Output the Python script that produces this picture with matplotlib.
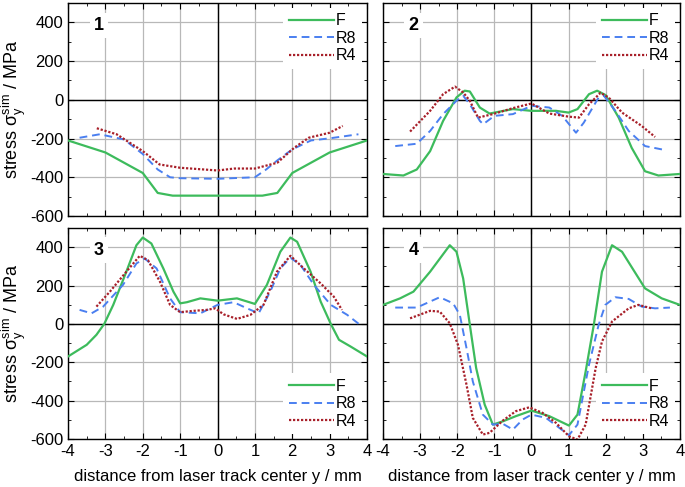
import matplotlib
matplotlib.use("Agg")
from matplotlib import pyplot as plt
from matplotlib.ticker import MultipleLocator

plt.rcParams['font.family'] = ['Liberation Sans', 'DejaVu Sans']
plt.rcParams['mathtext.fontset'] = 'custom'
plt.rcParams['mathtext.rm'] = 'Liberation Sans'
plt.rcParams['mathtext.it'] = 'Liberation Sans'
plt.rcParams['axes.unicode_minus'] = False

# panel 1
x1_f = [-4, -3, -2, -1.6, -1.2, 0, 1.2, 1.6, 2, 3, 4]
y1_f = [-210, -272, -378, -481, -495, -495, -495, -481, -378, -272, -210]
x1_r8 = [-3.69, -3.15, -2.5, -2.0, -1.6, -1.27, -1.0, 0, 1.0, 1.3, 1.6, 2.0, 2.5, 3.0, 3.77]
y1_r8 = [-196, -178, -205, -280, -360, -400, -405, -408, -400, -360, -313, -256, -210, -199, -178]
x1_r4 = [-3.23, -2.7, -2.0, -1.55, -1.0, 0, 0.45, 1.0, 1.6, 2.05, 2.44, 3.0, 3.35]
y1_r4 = [-147, -178, -265, -334, -351, -365, -355, -355, -325, -248, -196, -170, -135]

# panel 2
x2_f = [-4, -3.45, -3.09, -2.73, -2.38, -2.02, -1.8, -1.66, -1.39, -1.13, -0.5, 0,
        0.66, 1.0, 1.24, 1.55, 1.77, 2.0, 2.35, 2.7, 3.06, 3.42, 4]
y2_f = [-383, -391, -360, -265, -109, 12, 47, 43, -40, -71, -48, -57,
        -57, -66, -48, 29, 47, 24, -92, -248, -369, -391, -383]
x2_r8 = [-3.67, -3.09, -2.73, -2.38, -2.02, -1.84, -1.66, -1.39, -1.3, -1.0, -0.5, 0,
         0.48, 0.83, 1.2, 1.41, 1.81, 1.95, 2.26, 2.62, 3.06, 3.64]
y2_r8 = [-239, -227, -161, -74, -5, 21, -23, -109, -126, -83, -74, -31,
         -40, -83, -170, -118, 12, 21, -57, -161, -239, -261]
x2_r4 = [-3.27, -2.73, -2.38, -2.06, -1.84, -1.66, -1.44, -1.04, -0.5, 0,
         0.48, 1.0, 1.28, 1.55, 1.86, 2.08, 2.44, 2.97, 3.33]
y2_r4 = [-164, -57, 29, 68, 38, -5, -92, -74, -43, -19,
         -71, -87, -92, -23, 36, 12, -66, -135, -192]

# panel 3
x3_f = [-4, -3.5, -3.24, -3.03, -2.79, -2.44, -2.17, -2.0, -1.77, -1.45, -1.18, -1.0,
        -0.82, -0.46, 0, 0.52, 1.0, 1.32, 1.68, 1.95, 2.13, 2.49, 2.76, 3.03, 3.25, 3.56, 4]
y3_f = [-170, -109, -57, 0, 99, 272, 410, 450, 419, 289, 168, 107,
        113, 133, 121, 133, 104, 203, 376, 450, 428, 272, 116, 0, -83, -118, -170]
x3_r8 = [-3.69, -3.37, -3.06, -2.53, -2.17, -1.95, -1.63, -1.27, -1.0, -0.46, 0,
         0.43, 0.79, 1.1, 1.41, 1.68, 1.95, 2.22, 2.58, 3.03, 3.47, 3.78]
y3_r8 = [73, 55, 90, 203, 315, 341, 289, 133, 61, 55, 99,
         113, 81, 55, 168, 289, 345, 307, 203, 99, 47, 0]
x3_r4 = [-3.24, -2.88, -2.44, -2.08, -1.86, -1.54, -1.27, -1.0, -0.64, -0.29, -0.06,
         0.16, 0.52, 0.88, 1.23, 1.59, 1.95, 2.31, 2.76, 3.11, 3.33]
y3_r4 = [90, 168, 272, 355, 332, 220, 99, 61, 68, 73, 81,
         50, 26, 47, 99, 272, 355, 289, 211, 142, 73]

# panel 4
x4_f = [-4, -3.54, -3.18, -2.73, -2.2, -2.02, -1.84, -1.66, -1.49, -1.26, -1.04, -0.77,
        -0.42, 0, 0.48, 1.01, 1.24, 1.46, 1.68, 1.9, 2.17, 2.44, 3.06, 3.51, 4]
y4_f = [99, 133, 168, 272, 410, 376, 237, -5, -230, -421, -525, -508,
        -481, -452, -481, -530, -473, -248, -5, 272, 410, 376, 185, 133, 99]
x4_r8 = [-3.67, -3.09, -2.47, -2.11, -1.93, -1.75, -1.58, -1.31, -1.04, -0.77, -0.5,
         -0.24, 0, 0.39, 0.75, 1.01, 1.24, 1.55, 1.81, 1.99, 2.26, 2.62, 2.97, 3.33, 3.73]
y4_r8 = [85, 85, 139, 107, 47, -126, -300, -473, -525, -521, -551,
         -499, -473, -490, -542, -580, -525, -213, -5, 99, 139, 130, 90, 81, 85]
x4_r4 = [-3.27, -2.73, -2.47, -2.2, -1.98, -1.75, -1.58, -1.31, -1.13, -0.77, -0.42,
         -0.06, 0.3, 0.66, 1.01, 1.24, 1.46, 1.73, 1.9, 2.17, 2.62, 2.88, 3.24]
y4_r4 = [29, 68, 64, 3, -109, -317, -490, -577, -568, -504, -455,
         -435, -464, -516, -586, -603, -525, -230, -92, 12, 81, 99, 81]

panels = [
    ("1", x1_f, y1_f, x1_r8, y1_r8, x1_r4, y1_r4, "upper right"),
    ("2", x2_f, y2_f, x2_r8, y2_r8, x2_r4, y2_r4, "upper right"),
    ("3", x3_f, y3_f, x3_r8, y3_r8, x3_r4, y3_r4, "lower right"),
    ("4", x4_f, y4_f, x4_r8, y4_r8, x4_r4, y4_r4, "lower right"),
]

c_f = "#3dbb5c"
c_r8 = "#4a7ff0"
c_r4 = "#a8202a"

fig = plt.figure(figsize=(6.85, 4.87), dpi=100)
rects = [
    [0.0993, 0.5565, 0.4365, 0.4374],
    [0.5591, 0.5565, 0.4335, 0.4374],
    [0.0993, 0.0986, 0.4365, 0.4333],
    [0.5591, 0.0986, 0.4335, 0.4333],
]

for i, (num, xf, yf, xr8, yr8, xr4, yr4, loc) in enumerate(panels):
    ax = fig.add_axes(rects[i])
    ax.set_axisbelow(True)
    ax.set_xlim(-4, 4)
    ax.set_ylim(-600, 500)
    ax.grid(True, color="#b8b8b8", linewidth=0.9)
    ax.axhline(0, color="black", linewidth=1.0, zorder=2)
    ax.axvline(0, color="black", linewidth=1.0, zorder=2)

    ax.plot(xf, yf, color=c_f, linewidth=1.6, label="F", zorder=3)
    ax.plot(xr8, yr8, color=c_r8, linewidth=1.4, linestyle=(0, (4, 2.5)), label="R8", zorder=3)
    ax.plot(xr4, yr4, color=c_r4, linewidth=1.6, linestyle=(0, (1, 0.8)), label="R4", zorder=3)

    ax.xaxis.set_major_locator(MultipleLocator(1))
    ax.xaxis.set_minor_locator(MultipleLocator(0.5))
    ax.yaxis.set_major_locator(MultipleLocator(200))
    ax.yaxis.set_minor_locator(MultipleLocator(100))
    ax.tick_params(which="both", direction="in", top=True, right=True, labelsize=12)
    ax.tick_params(which="major", length=4)
    ax.tick_params(which="minor", length=2.5)
    for s in ax.spines.values():
        s.set_linewidth(1.0)

    ax.text(-3.18, 385, num, fontsize=13, fontweight="bold", ha="center", va="center",
            bbox=dict(facecolor="white", edgecolor="none", pad=3), zorder=4)

    leg = ax.legend(loc=loc, frameon=True, fancybox=False, edgecolor="none",
                    framealpha=1, fontsize=11.5, handlelength=2.8, handletextpad=0.15,
                    labelspacing=0.15, borderpad=0.35, borderaxespad=0.3)
    leg.set_zorder(5)

    if i in (0, 1):
        ax.tick_params(labelbottom=False)
    else:
        ax.set_xlabel("distance from laser track center y / mm", fontsize=12, labelpad=7)
    if i in (1, 3):
        ax.tick_params(labelleft=False)
    else:
        ax.set_ylabel(r"stress $\sigma_y^{sim}$ / MPa", fontsize=13, labelpad=1)

plt.savefig("out.png", dpi=100)
